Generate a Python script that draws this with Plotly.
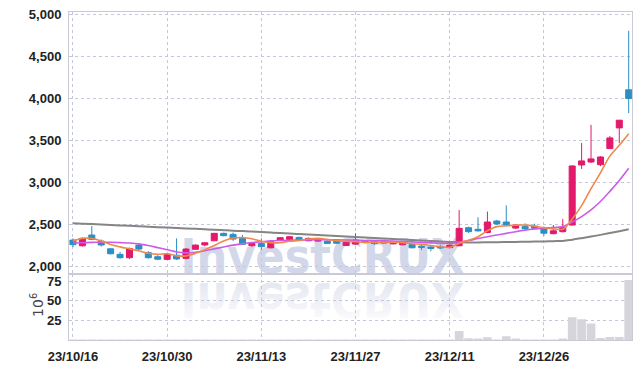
import plotly.graph_objects as go

dates = [
    "23/10/16", "23/10/17", "23/10/18", "23/10/19", "23/10/20",
    "23/10/23", "23/10/24", "23/10/25", "23/10/26", "23/10/27",
    "23/10/30", "23/10/31", "23/11/01", "23/11/02", "23/11/03",
    "23/11/06", "23/11/07", "23/11/08", "23/11/09", "23/11/10",
    "23/11/13", "23/11/14", "23/11/15", "23/11/16", "23/11/17",
    "23/11/20", "23/11/21", "23/11/22", "23/11/23", "23/11/24",
    "23/11/27", "23/11/28", "23/11/29", "23/11/30", "23/12/01",
    "23/12/04", "23/12/05", "23/12/06", "23/12/07", "23/12/08",
    "23/12/11", "23/12/12", "23/12/13", "23/12/14", "23/12/15",
    "23/12/18", "23/12/19", "23/12/20", "23/12/21", "23/12/22",
    "23/12/26", "23/12/27", "23/12/28", "24/01/02", "24/01/03",
    "24/01/04", "24/01/05", "24/01/08", "24/01/09", "24/01/10",
]

opens = [2310, 2242, 2370, 2298, 2206, 2140, 2100, 2250, 2160, 2112,
         2080, 2130, 2092, 2200, 2252, 2302, 2390, 2378, 2330, 2242,
         2270, 2218, 2310, 2318, 2342, 2302, 2298, 2298, 2300, 2245,
         2262, 2302, 2290, 2290, 2265, 2254, 2258, 2235, 2228, 2230,
         2220, 2242, 2457, 2438, 2400, 2537, 2525, 2453, 2470, 2475,
         2457, 2386, 2410, 2489, 3205, 3240, 3208, 3400, 3646, 4100]
highs = [2330, 2340, 2477, 2318, 2212, 2170, 2220, 2270, 2178, 2130,
         2145, 2330, 2215, 2258, 2285, 2395, 2398, 2400, 2370, 2282,
         2330, 2295, 2345, 2358, 2350, 2340, 2332, 2305, 2306, 2288,
         2390, 2310, 2310, 2298, 2298, 2288, 2262, 2250, 2245, 2255,
         2258, 2668, 2470, 2582, 2650, 2550, 2724, 2500, 2510, 2505,
         2470, 2490, 2560, 3200, 3467, 3682, 3310, 3550, 3740, 4804]
lows = [2225, 2232, 2310, 2232, 2140, 2088, 2085, 2185, 2088, 2070,
        2075, 2072, 2080, 2195, 2235, 2298, 2355, 2300, 2255, 2225,
        2190, 2212, 2305, 2312, 2310, 2295, 2292, 2265, 2266, 2240,
        2250, 2270, 2250, 2268, 2258, 2248, 2212, 2192, 2175, 2205,
        2212, 2238, 2395, 2410, 2392, 2492, 2470, 2440, 2435, 2435,
        2362, 2380, 2400, 2485, 3157, 3228, 3190, 3395, 3464, 3822]
closes = [2255, 2330, 2318, 2251, 2147, 2100, 2210, 2203, 2100, 2082,
          2140, 2085, 2203, 2250, 2278, 2390, 2362, 2322, 2260, 2270,
          2232, 2290, 2338, 2350, 2315, 2330, 2326, 2270, 2272, 2282,
          2310, 2280, 2268, 2275, 2292, 2282, 2218, 2225, 2210, 2218,
          2250, 2450, 2410, 2420, 2525, 2502, 2490, 2489, 2447, 2450,
          2392, 2420, 2465, 3193, 3253, 3277, 3300, 3527, 3738, 3996]

ma_short = [2298, 2330, 2328, 2300, 2258, 2229, 2205, 2182, 2152, 2139,
            2147, 2122, 2122, 2152, 2195, 2245, 2300, 2335, 2340, 2325,
            2295, 2278, 2280, 2296, 2305, 2322, 2330, 2318, 2303, 2296,
            2292, 2283, 2282, 2283, 2285, 2279, 2267, 2258, 2245, 2231,
            2224, 2271, 2308, 2350, 2420, 2470, 2480, 2488, 2488, 2476,
            2458, 2445, 2440, 2560, 2720, 2922, 3110, 3310, 3440, 3578]
ma_mid = [2275, 2278, 2282, 2284, 2284, 2280, 2275, 2265, 2245, 2220,
          2195, 2168, 2158, 2165, 2182, 2205, 2228, 2250, 2268, 2280,
          2290, 2300, 2305, 2308, 2310, 2312, 2313, 2313, 2312, 2310,
          2308, 2305, 2302, 2300, 2297, 2293, 2288, 2282, 2276, 2272,
          2270, 2285, 2305, 2328, 2350, 2370, 2390, 2410, 2428, 2442,
          2452, 2460, 2470, 2525, 2590, 2670, 2770, 2890, 3020, 3165]
ma_long = [2510, 2505, 2500, 2495, 2490, 2485, 2480, 2474, 2469, 2464,
           2459, 2454, 2449, 2444, 2439, 2434, 2428, 2422, 2417, 2411,
           2405, 2399, 2393, 2388, 2382, 2376, 2370, 2364, 2358, 2352,
           2346, 2340, 2334, 2328, 2322, 2316, 2310, 2304, 2298, 2293,
           2288, 2284, 2282, 2282, 2283, 2284, 2286, 2288, 2290, 2292,
           2294, 2297, 2300, 2315, 2333, 2352, 2372, 2393, 2416, 2440]

volumes = [0.3, 0.3, 0.4, 0.3, 0.3, 0.3, 0.3, 0.3, 0.3, 0.3,
           0.3, 0.4, 0.3, 0.3, 0.3, 0.3, 0.3, 0.3, 0.3, 0.3,
           0.3, 0.3, 0.3, 0.3, 0.3, 0.3, 0.3, 0.3, 0.3, 0.3,
           0.3, 0.3, 0.3, 0.3, 0.3, 0.3, 0.3, 0.3, 0.3, 0.3,
           0.4, 11.4, 2.1, 1.9, 3.4, 0.5, 4.8, 0.8, 0.6, 0.5,
           0.6, 0.7, 1.0, 29.0, 26.5, 21.0, 2.5, 3.7, 3.7, 76.5]

x_ticks = ["23/10/16", "23/10/30", "23/11/13", "23/11/27", "23/12/11", "23/12/26"]
price_ticks = [2000, 2500, 3000, 3500, 4000, 4500, 5000]
volume_ticks = [25, 50, 75]
volume_unit = "10<sup>6</sup>"
watermark = "InvestCRUX"

UP = "#e3196b"
DOWN = "#2b8fc4"
GRID = "#c4c7dc"
FRAME = "#c9cad6"
tickfont = dict(family="Liberation Sans", size=13, color="#222222", weight="bold")

fig = go.Figure()
fig.add_trace(go.Bar(x=dates, y=volumes, xaxis="x2", yaxis="y2",
                     marker=dict(color="#d5d5db", line=dict(width=0)), hoverinfo="skip"))
fig.add_trace(go.Candlestick(
    x=dates, open=opens, high=highs, low=lows, close=closes, xaxis="x", yaxis="y",
    increasing=dict(line=dict(color=UP, width=1), fillcolor=UP),
    decreasing=dict(line=dict(color=DOWN, width=1), fillcolor=DOWN),
    whiskerwidth=0))
for vals, col, w in [(ma_long, "#858585", 2), (ma_mid, "#cc5ce8", 1.6), (ma_short, "#f0874d", 1.6)]:
    fig.add_trace(go.Scatter(x=dates, y=vals, mode="lines", xaxis="x", yaxis="y",
                             line=dict(color=col, width=w, shape="spline"), hoverinfo="skip"))

xrange = [-0.42, 59.35]
common_x = dict(type="category", range=xrange, tickvals=x_ticks, showgrid=True, gridcolor=GRID,
                griddash="dot", gridwidth=1, showline=True, linecolor=FRAME, linewidth=1,
                mirror=True, zeroline=False, automargin=False)
common_y = dict(showgrid=True, gridcolor=GRID, griddash="dot", gridwidth=1,
                showline=True, linecolor=FRAME, mirror=True, zeroline=False, automargin=False,
                ticks="outside", ticklen=4, tickcolor="rgba(0,0,0,0)", tickfont=tickfont)
fig.update_layout(
    width=642, height=368,
    margin=dict(l=69, r=10, t=12, b=28),
    paper_bgcolor="white", plot_bgcolor="white",
    showlegend=False, bargap=0.08, boxgap=0.2, boxgroupgap=0.2,
    xaxis=dict(domain=[0, 1], anchor="y", showticklabels=False, ticks="",
               rangeslider=dict(visible=False), **common_x),
    xaxis2=dict(domain=[0, 1], anchor="y2", ticktext=x_ticks, showticklabels=True,
                ticks="outside", ticklen=4, tickcolor="rgba(0,0,0,0)", tickfont=tickfont, **common_x),
    yaxis=dict(domain=[0.2, 1], anchor="x", range=[1901, 5027], tickvals=price_ticks,
               tickformat=",", **common_y),
    yaxis2=dict(domain=[0, 0.2], anchor="x2", range=[0, 83.5], tickvals=volume_ticks, **common_y),
    annotations=[
        dict(text=volume_unit, xref="paper", yref="paper", x=-0.058, y=0.108,
             xanchor="center", yanchor="middle", textangle=-90, showarrow=False,
             font=dict(family="DejaVu Sans", size=14, color="#444444")),
    ],
    shapes=[
        dict(type="rect", xref="paper", yref="paper", x0=0.15, x1=0.75, y0=0.194, y1=0.334,
             line=dict(width=0), fillcolor="rgba(0,0,0,0)", layer="below",
             label=dict(text=watermark, textposition="middle center",
                        font=dict(family="DejaVu Sans Condensed", size=48, color="#d2d8ea", weight="bold"))),
        dict(type="rect", xref="paper", yref="paper", x0=0.15, x1=0.75, y0=0.06, y1=0.20,
             line=dict(width=0), fillcolor="rgba(0,0,0,0)", layer="below",
             label=dict(text=watermark, textposition="middle center",
                        font=dict(family="DejaVu Sans Condensed", size=48, color="#e2e5f0", weight="bold"))),
    ],
)

post = """
document.documentElement.style.margin = '0';
document.body.style.margin = '0';
document.body.style.padding = '0';
var gd = document.getElementById('{plot_id}');
var ts = gd.querySelectorAll('text');
var hits = [];
ts.forEach(function(t){ if (t.textContent === 'InvestCRUX') hits.push(t); });
if (hits.length > 1) {
  var t = hits[hits.length - 1];
  var ns = 'http://www.w3.org/2000/svg';
  var svg = gd.querySelector('svg.main-svg');
  var defs = svg.querySelector('defs');
  var lg = document.createElementNS(ns, 'linearGradient');
  lg.setAttribute('id', 'wmfade');
  lg.setAttribute('x1', '0'); lg.setAttribute('y1', '0');
  lg.setAttribute('x2', '0'); lg.setAttribute('y2', '1');
  [['0', '#ffffff'], ['1', '#dfe2ee']].forEach(function(s){
    var st = document.createElementNS(ns, 'stop');
    st.setAttribute('offset', s[0]); st.setAttribute('stop-color', s[1]);
    lg.appendChild(st);
  });
  defs.appendChild(lg);
  t.style.fill = 'url(#wmfade)';
  t.style.transformBox = 'fill-box';
  t.style.transformOrigin = 'center';
  t.style.transform = 'scaleY(-1)';
}
"""

fig.write_html("out.html", post_script=post, config={"displayModeBar": False})
